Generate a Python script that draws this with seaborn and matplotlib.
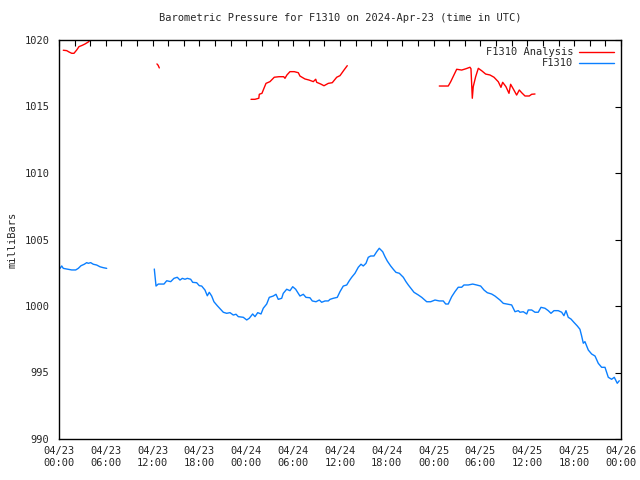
import pandas as pd
import matplotlib
matplotlib.use('Agg')
import matplotlib.pyplot as plt
import matplotlib.dates as mdates
from matplotlib.lines import Line2D
import seaborn as sns

# hours after 2024-04-23 00:00 UTC, pressure in mb
ana_hours_1 = [0.55, 0.99, 1.28, 1.63, 1.92, 2.27, 2.56, 2.98, 3.33, 3.75, 3.88]
ana_mb_1 = [1019.23, 1019.2, 1019.1, 1019.0, 1019.0, 1019.25, 1019.5, 1019.6, 1019.7, 1019.85, 1019.92]

ana_hours_2 = [12.55, 12.7, 12.85]
ana_mb_2 = [1018.2, 1018.1, 1017.9]

ana_hours_3 = [24.6, 25.1, 25.6, 25.66, 26.0, 26.26, 26.52, 27.03, 27.58, 28.18, 28.79, 28.95,
               29.2, 29.59, 30.14, 30.66, 30.87, 31.51, 32.03, 32.58, 32.89, 33.01, 33.53,
               33.95, 34.5, 35.01, 35.58, 36.0, 36.51, 36.93]
ana_mb_3 = [1015.54, 1015.54, 1015.62, 1015.92, 1015.99, 1016.37, 1016.74, 1016.87, 1017.2,
            1017.24, 1017.24, 1017.12, 1017.37, 1017.62, 1017.62, 1017.54, 1017.29, 1017.07,
            1016.99, 1016.87, 1017.05, 1016.82, 1016.69, 1016.56, 1016.74, 1016.79, 1017.2,
            1017.32, 1017.74, 1018.07]

ana_hours_4 = [48.72, 49.87, 50.18, 50.95, 51.59, 52.14, 52.65, 52.78, 52.95, 53.07, 53.38,
               53.72, 54.15, 54.66, 55.21, 55.73, 56.28, 56.62, 56.84, 57.26, 57.65, 57.86,
               58.2, 58.63, 58.97, 59.27, 59.7, 60.25, 60.56, 60.98]
ana_mb_4 = [1016.54, 1016.54, 1016.86, 1017.8, 1017.74, 1017.84, 1017.95, 1017.84, 1015.62,
            1016.49, 1017.24, 1017.87, 1017.69, 1017.44, 1017.37, 1017.2, 1016.86, 1016.44,
            1016.82, 1016.49, 1015.99, 1016.67, 1016.32, 1015.86, 1016.24, 1016.04, 1015.79,
            1015.79, 1015.92, 1015.94]

obs_hours_1 = [0.13, 0.35, 0.55, 0.99, 1.63, 2.14, 2.47, 2.82, 3.24, 3.55, 3.75, 4.06, 4.39,
               4.83, 5.25, 5.68, 6.11]
obs_mb_1 = [1002.83, 1003.01, 1002.83, 1002.78, 1002.71, 1002.71, 1002.83, 1003.03, 1003.14,
            1003.26, 1003.21, 1003.26, 1003.14, 1003.08, 1002.95, 1002.88, 1002.83]

obs_hours_2 = [12.21, 12.43, 12.72, 13.45, 13.8, 14.31, 14.73, 15.15, 15.5, 15.8, 16.14, 16.44,
               16.87, 17.13, 17.64, 17.97, 18.28, 18.7, 19.0, 19.25, 19.56, 19.85, 20.28,
               20.71, 21.05, 21.48, 21.91, 22.33, 22.68, 22.97, 23.61, 24.05, 24.38, 24.81,
               25.11, 25.46, 25.88, 26.17, 26.61, 26.94, 27.45, 27.8, 28.09, 28.53, 28.73,
               29.17, 29.59, 29.94, 30.32, 30.87, 31.3, 31.64, 32.15, 32.45, 32.92, 33.35,
               33.65, 34.08, 34.5, 34.72, 35.14, 35.65, 36.0, 36.42, 36.86, 37.19, 37.5,
               37.92, 38.34, 38.69, 38.98, 39.33, 39.62, 39.93, 40.35, 40.7, 41.03, 41.47,
               41.76, 42.06, 42.49, 42.83, 43.17, 43.6, 44.11, 44.45, 44.75, 45.09, 45.48,
               46.03, 46.47, 47.11, 47.62, 48.17, 48.72, 49.23, 49.54, 49.87, 50.31, 50.73,
               51.15, 51.59, 51.88, 52.43, 53.0, 53.51, 54.02, 54.45, 54.87, 55.43, 55.85,
               56.49, 56.92, 57.56, 57.99, 58.42, 58.84, 59.06, 59.48, 59.92, 60.12, 60.56,
               60.98, 61.4, 61.75, 62.26, 62.68, 63.03, 63.41, 63.96, 64.4, 64.69, 64.95,
               65.24, 65.59, 65.97, 66.4, 66.74, 66.96, 67.17, 67.38, 67.81, 68.24, 68.67,
               69.09, 69.52, 69.95, 70.37, 70.8, 71.14, 71.52, 71.78]
obs_mb_2 = [1002.78, 1001.5, 1001.65, 1001.65, 1001.9, 1001.83, 1002.08, 1002.16, 1001.95,
            1002.08, 1002.01, 1002.08, 1002.01, 1001.78, 1001.75, 1001.53, 1001.5, 1001.2,
            1000.77, 1001.03, 1000.75, 1000.32, 1000.02, 999.75, 999.53, 999.45, 999.5,
            999.32, 999.38, 999.2, 999.15, 998.95, 999.08, 999.4, 999.2, 999.5, 999.4,
            999.83, 1000.15, 1000.65, 1000.75, 1000.88, 1000.5, 1000.58, 1000.95, 1001.26,
            1001.15, 1001.45, 1001.26, 1000.75, 1000.88, 1000.65, 1000.62, 1000.38, 1000.32,
            1000.45, 1000.28, 1000.38, 1000.38, 1000.5, 1000.58, 1000.65, 1001.08, 1001.5,
            1001.58, 1001.9, 1002.16, 1002.46, 1002.91, 1003.14, 1003.01, 1003.21, 1003.66,
            1003.76, 1003.76, 1004.08, 1004.34, 1004.08, 1003.71, 1003.38, 1003.01, 1002.76,
            1002.53, 1002.46, 1002.16, 1001.83, 1001.58, 1001.33, 1001.03, 1000.83, 1000.65,
            1000.32, 1000.32, 1000.45, 1000.38, 1000.38, 1000.15, 1000.15, 1000.7, 1001.08,
            1001.41, 1001.41, 1001.58, 1001.58, 1001.65, 1001.58, 1001.5, 1001.2, 1001.0,
            1000.9, 1000.75, 1000.45, 1000.2, 1000.13, 1000.08, 999.57, 999.65, 999.53,
            999.57, 999.4, 999.7, 999.7, 999.53, 999.53, 999.9, 999.83, 999.65, 999.45,
            999.65, 999.65, 999.53, 999.27, 999.65, 999.15, 999.02, 998.77, 998.5, 998.25,
            997.74, 997.2, 997.32, 996.69, 996.39, 996.24, 995.69, 995.39, 995.39, 994.64,
            994.49, 994.64, 994.19, 994.38]

start = pd.Timestamp('2024-04-23 00:00')
red = '#ff0000'
blue = '#0a7fff'

frames = []
segments = [('F1310 Analysis', 'a1', ana_hours_1, ana_mb_1),
            ('F1310 Analysis', 'a2', ana_hours_2, ana_mb_2),
            ('F1310 Analysis', 'a3', ana_hours_3, ana_mb_3),
            ('F1310 Analysis', 'a4', ana_hours_4, ana_mb_4),
            ('F1310', 'o1', obs_hours_1, obs_mb_1),
            ('F1310', 'o2', obs_hours_2, obs_mb_2)]
for name, seg, hrs, mb in segments:
    frames.append(pd.DataFrame({'time': start + pd.to_timedelta(hrs, unit='h'),
                                'pressure': mb, 'series': name, 'segment': seg}))
df = pd.concat(frames, ignore_index=True)

sns.set_style('white')
plt.rcParams['font.family'] = ['DejaVu Sans Mono']

fig = plt.figure(figsize=(6.4, 4.8), dpi=100)
ax = fig.add_axes([59 / 640, 1 - 439 / 480, 562 / 640, 399 / 480])

sns.lineplot(data=df, x='time', y='pressure', hue='series', units='segment',
             estimator=None, palette={'F1310 Analysis': red, 'F1310': blue},
             linewidth=1.0, legend=False, ax=ax)

ax.set_xlim(start, start + pd.Timedelta(hours=72))
ax.set_ylim(990, 1020)
ax.set_yticks(range(990, 1021, 5))
ax.xaxis.set_major_locator(mdates.HourLocator(byhour=range(0, 24, 6)))
ax.xaxis.set_minor_locator(mdates.HourLocator(byhour=range(0, 24, 2)))
ax.xaxis.set_major_formatter(mdates.DateFormatter('%m/%d\n%H:%M'))

ax.tick_params(which='both', direction='in', top=True, right=True, length=4,
               width=0.8, color='black', labelsize=7.5)
ax.tick_params(axis='y', pad=7)
ax.tick_params(axis='x', pad=5)
for sp in ax.spines.values():
    sp.set_color('black')
    sp.set_linewidth(1.0)

ax.set_xlabel('')
ax.set_ylabel('milliBars', fontsize=7.5, labelpad=5)
ax.set_title('Barometric Pressure for F1310 on 2024-Apr-23 (time in UTC)',
             fontsize=7.5, pad=14)

handles = [Line2D([], [], color=red, lw=1.0), Line2D([], [], color=blue, lw=1.0)]
ax.legend(handles, ['F1310 Analysis', 'F1310'], loc='upper right', markerfirst=False,
          frameon=False, fontsize=7.5, handlelength=3.3, handletextpad=0.6,
          labelspacing=0.1, borderaxespad=0.3)

fig.savefig('out.png', dpi=100)
